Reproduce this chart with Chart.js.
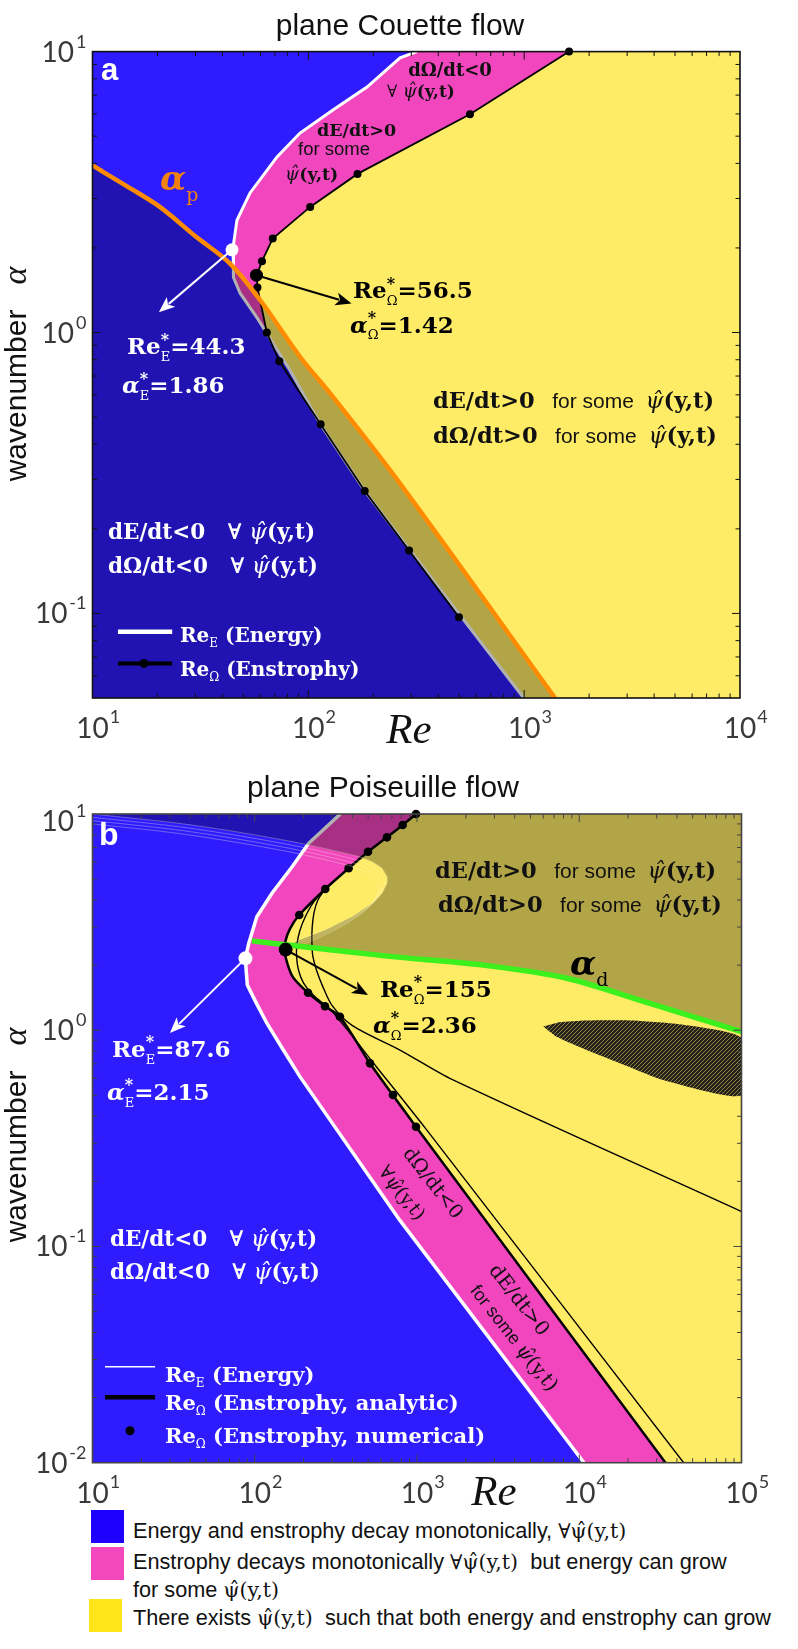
<!DOCTYPE html>
<html>
<head>
<meta charset="utf-8">
<script src="https://cdn.jsdelivr.net/npm/chart.js@4.4.1/dist/chart.umd.min.js"></script>
<style>
html, body { margin: 0; padding: 0; background: #fff; }
#page { position: relative; width: 798px; height: 1649px; overflow: hidden; }
canvas { position: absolute; left: 0; }
#cA { top: 0; }
#cB { top: 760px; }
.key { position: absolute; width: 33px; height: 33px; }
.lt { position: absolute; left: 133px; font: 21.7px "Liberation Sans", Arial, sans-serif; line-height: 24px; color: #111; white-space: nowrap; }
.m { font-family: "DejaVu Serif", serif; font-size: 20.5px; }
</style>
</head>
<body>
<div id="page">
  <canvas id="cA" width="798" height="760"></canvas>
  <canvas id="cB" width="798" height="750"></canvas>

  <div class="key" style="left:91px;top:1510px;background:#1e00ff"></div>
  <div class="key" style="left:91px;top:1547px;background:#f449be"></div>
  <div class="key" style="left:89px;top:1599px;background:#ffe41c"></div>
  <div class="lt" style="top:1519px">Energy and enstrophy decay monotonically, <span class="m">∀ψ̂(y,t)</span></div>
  <div class="lt" style="top:1550px">Enstrophy decays monotonically <span class="m">∀ψ̂(y,t)</span>&nbsp; but energy can grow</div>
  <div class="lt" style="top:1578px">for some <span class="m">ψ̂(y,t)</span></div>
  <div class="lt" style="top:1606px">There exists <span class="m">ψ̂(y,t)</span>&nbsp; such that both energy and enstrophy can grow</div>
</div>

<script>
// ---------- panel a : plane Couette flow ----------
const couetteReRange = [10, 10000];
const couetteAlphaRange = [0.05, 10];
const couetteReTicks = [10, 100, 1000, 10000];
const couetteReExp = ['1', '2', '3', '4'];
const couetteAlphaTicks = [0.1, 1, 10];
const couetteAlphaExp = ['-1', '0', '1'];

// energy stability boundary Re_E(alpha)
const couetteEnergyRe    = [319, 266, 187, 130, 91.5, 71.6, 53.7, 46.7, 44.8, 44.8, 45.2, 48.3, 57.8, 68.6, 82.2, 113, 183, 266, 995];
const couetteEnergyAlpha = [10, 9.5, 7.48, 6.2, 5.13, 4.22, 3.14, 2.51, 2.01, 1.71, 1.57, 1.38, 1.13, 0.916, 0.734, 0.475, 0.272, 0.187, 0.05];

// enstrophy stability boundary Re_Omega(alpha), numerical points
const couetteEnstRe    = [1615, 561, 169, 102, 68.4, 61.0, 57.7, 58.1, 64.2, 73.4, 114, 182.5, 293, 499];
const couetteEnstAlpha = [10, 5.98, 3.67, 2.80, 2.16, 1.795, 1.6, 1.447, 1.0, 0.79, 0.471, 0.2726, 0.1675, 0.0969];

// alpha_p curve
const couettePeakRe    = [10, 14.4, 20.5, 30, 43.4, 60, 91.5, 130, 266, 1390];
const couettePeakAlpha = [3.93, 3.32, 2.8, 2.2, 1.76, 1.3, 0.82, 0.59, 0.29, 0.05];

const couetteCritE = [44.3, 1.97];
const couetteCritOmega = [57.5, 1.6];

// ---------- panel b : plane Poiseuille flow ----------
const poisReRange = [10, 100000];
const poisAlphaRange = [0.01, 10];
const poisReTicks = [10, 100, 1000, 10000, 100000];
const poisReExp = ['1', '2', '3', '4', '5'];
const poisAlphaTicks = [0.01, 0.1, 1, 10];
const poisAlphaExp = ['-2', '-1', '0', '1'];

const poisEnergyRe    = [337, 215, 170, 128, 103, 91.8, 87.6, 88.5, 90, 101, 118.5, 150, 190, 785, 10700];
const poisEnergyAlpha = [10, 7.32, 5.7, 4.31, 3.35, 2.52, 2.15, 1.9, 1.62, 1.36, 1.08, 0.81, 0.61, 0.132, 0.01];

// Re_Omega analytic (outer curve) and two companion curves
const poisEnstRe    = [986, 816, 653, 499, 379, 272, 188, 165, 154, 153, 160, 172, 213, 271, 335, 513, 986, 34000];
const poisEnstAlpha = [10, 8.9, 7.8, 6.69, 5.61, 4.5, 3.41, 2.95, 2.55, 2.3, 2.0, 1.76, 1.49, 1.29, 1.155, 0.703, 0.358, 0.01];
const poisCurve2Re    = [272, 230, 205, 190, 182, 181, 186, 200, 230, 300, 560, 1150, 44000];
const poisCurve2Alpha = [4.5, 3.9, 3.35, 2.9, 2.5, 2.2, 1.9, 1.65, 1.45, 1.22, 0.68, 0.345, 0.01];
const poisCurve3Re    = [272, 245, 232, 226, 225, 228, 240, 262, 300, 400, 785, 1667, 100000];
const poisCurve3Alpha = [4.5, 4.0, 3.5, 3.0, 2.55, 2.2, 1.9, 1.6, 1.3, 1.05, 0.81, 0.589, 0.145];

// Re_Omega numerical points
const poisDotsRe    = [986, 816, 653, 499, 379, 272, 188, 213, 271, 335, 513, 711, 986];
const poisDotsAlpha = [10, 8.9, 7.8, 6.69, 5.61, 4.5, 3.41, 1.49, 1.29, 1.155, 0.703, 0.502, 0.358];

// alpha_d curve
const poisAlphaDRe    = [96, 160, 300, 701, 2560, 8370, 27300, 100000];
const poisAlphaDAlpha = [2.59, 2.48, 2.35, 2.19, 2.0, 1.74, 1.33, 0.984];

// contour bounding the shaded region (top strip and nose)
const poisContourRe    = [10, 41, 170, 437, 528, 608, 653, 653, 608, 528, 397, 272, 187, 160];
const poisContourAlpha = [10, 8.89, 7.45, 6.35, 6.02, 5.61, 5.13, 4.78, 4.30, 3.86, 3.35, 2.91, 2.61, 2.48];

// hatched lens
const poisLensRe    = [6000, 7260, 11100, 20000, 32800, 100000, 100000, 43800, 21500, 11100, 7500];
const poisLensAlpha = [1.04, 0.933, 0.81, 0.68, 0.589, 0.5, 0.92, 1.06, 1.11, 1.11, 1.09];

const poisCritE = [87.6, 2.15];
const poisCritOmega = [155, 2.36];

// ---------- colours ----------
const YELLOW = '#ffec66', BLUE = '#2e1cff', PINK = '#f146be', SHADE = 'rgba(0,0,0,0.3)';
const PSI = 'ψ\u0302';

// ---------- helpers ----------
const pts = (xs, ys) => xs.map((x, i) => ({x: x, y: ys[i]}));
const SB = s => 'bold ' + s + 'px "DejaVu Serif"';
const SR = s => s + 'px "DejaVu Serif"';
const SBI = s => 'bold italic ' + s + 'px "DejaVu Serif"';
const SI = s => 'italic ' + s + 'px "DejaVu Serif"';
const SS = s => s + 'px "Liberation Sans", Arial';
const SSB = s => 'bold ' + s + 'px "Liberation Sans", Arial';

function star(base, sub, size, italic) {
    return [[base, (italic ? SBI : SB)(size)],
            ['*', SB(Math.round(size * 0.7)), -size * 0.42, true],
            [sub, SR(Math.round(size * 0.55)), size * 0.3]];
}

function area(data, color, order, extra) {
    return Object.assign({data: data, fill: 'shape', backgroundColor: color, borderColor: 'rgba(0,0,0,0)',
        borderWidth: 0, pointRadius: 0, tension: 0, order: order}, extra || {});
}
function curve(data, color, width, order, extra) {
    return Object.assign({data: data, fill: false, borderColor: color, borderWidth: width,
        pointRadius: 0, tension: 0, order: order}, extra || {});
}
function marker(p, color, r, order) {
    return {data: [{x: p[0], y: p[1]}], showLine: false, pointRadius: r, pointBackgroundColor: color,
        pointBorderColor: color, pointBorderWidth: 0, order: order, clip: false};
}

// rich text: parts = [text, font, dy, stackWithNext]
function rich(ctx, x, y, parts, color, align, rot, dy0) {
    ctx.save();
    ctx.translate(x, y);
    if (rot) ctx.rotate(rot * Math.PI / 180);
    ctx.fillStyle = color;
    ctx.textAlign = 'left';
    ctx.textBaseline = 'alphabetic';
    const widths = parts.map(p => { ctx.font = p[1]; return ctx.measureText(p[0]).width; });
    let total = 0, pend = 0;
    parts.forEach((p, i) => {
        if (p[3]) pend = Math.max(pend, widths[i]);
        else { total += Math.max(pend, widths[i]); pend = 0; }
    });
    let cx = align === 'center' ? -total / 2 : (align === 'right' ? -total : 0);
    pend = 0;
    parts.forEach((p, i) => {
        ctx.font = p[1];
        ctx.fillText(p[0], cx, (p[2] || 0) + (dy0 || 0));
        if (p[3]) pend = Math.max(pend, widths[i]);
        else { cx += Math.max(pend, widths[i]); pend = 0; }
    });
    ctx.restore();
}

function arrow(ctx, p0, p1, color) {
    const ang = Math.atan2(p1[1] - p0[1], p1[0] - p0[0]);
    const L = 16, W = 6.5;
    const bx = p1[0] - L * Math.cos(ang), by = p1[1] - L * Math.sin(ang);
    ctx.save();
    ctx.strokeStyle = color; ctx.fillStyle = color; ctx.lineWidth = 2;
    ctx.beginPath(); ctx.moveTo(p0[0], p0[1]); ctx.lineTo(bx + 3 * Math.cos(ang), by + 3 * Math.sin(ang)); ctx.stroke();
    ctx.beginPath();
    ctx.moveTo(p1[0], p1[1]);
    ctx.lineTo(bx + W * Math.sin(ang), by - W * Math.cos(ang));
    ctx.lineTo(bx + 4 * Math.cos(ang), by + 4 * Math.sin(ang));
    ctx.lineTo(bx - W * Math.sin(ang), by + W * Math.cos(ang));
    ctx.closePath(); ctx.fill();
    ctx.restore();
}

function logTicks(range) {
    const out = [];
    for (let k = Math.floor(Math.log10(range[0])); k <= Math.ceil(Math.log10(range[1])); k++) {
        for (let m = 1; m <= 9; m++) {
            const v = m * Math.pow(10, k);
            if (v > range[0] * 1.0001 && v < range[1] * 0.9999) out.push({v: v, major: m === 1});
        }
    }
    return out;
}

// annotations drawn through the chart scales
function notesPlugin(spec) {
    return {
        id: 'notes',
        afterDatasetDraw(chart, args) {
            const ds = chart.data.datasets[args.index];
            if (!ds.copies) return;
            const ctx = chart.ctx, a = chart.chartArea;
            ctx.save();
            ctx.beginPath(); ctx.rect(a.left, a.top, a.right - a.left, a.bottom - a.top); ctx.clip();
            ds.copies.forEach(o => {
                ctx.save(); ctx.translate(o[0], o[1]);
                args.meta.dataset.draw(ctx, a);
                ctx.restore();
            });
            ctx.restore();
        },
        afterDatasetsDraw(chart) {
            const ctx = chart.ctx, x = chart.scales.x, y = chart.scales.y;
            const P = p => [x.getPixelForValue(p[0]), y.getPixelForValue(p[1])];
            spec.keys.forEach(k => {
                ctx.save();
                if (k.re) {
                    const a = P([k.re[0], k.al]), b = P([k.re[1], k.al]);
                    ctx.strokeStyle = k.color; ctx.lineWidth = k.width;
                    ctx.beginPath(); ctx.moveTo(a[0], a[1]); ctx.lineTo(b[0], b[1]); ctx.stroke();
                }
                if (k.dot) {
                    const d = P(k.dot);
                    ctx.fillStyle = k.color;
                    ctx.beginPath(); ctx.arc(d[0], d[1], k.r, 0, 2 * Math.PI); ctx.fill();
                }
                ctx.restore();
            });
            spec.arrows.forEach(ar => arrow(ctx, P(ar.from), P(ar.to), ar.color));
            spec.texts.forEach(t => {
                const p = P(t.at);
                rich(ctx, p[0], p[1], t.parts, t.color || '#111', t.align, t.rot, t.dy0);
            });
        }
    };
}

// frame, inward ticks, tick labels and titles
function framePlugin(cfg) {
    return {
        id: 'frame',
        afterDraw(chart) {
            const ctx = chart.ctx, a = chart.chartArea, x = chart.scales.x, y = chart.scales.y;
            ctx.save();
            ctx.strokeStyle = cfg.color;
            ctx.lineWidth = 1;
            ctx.beginPath();
            logTicks(cfg.xRange).forEach(t => {
                const px = x.getPixelForValue(t.v), L = t.major ? 8 : 4.5;
                ctx.moveTo(px, a.bottom); ctx.lineTo(px, a.bottom - L);
                ctx.moveTo(px, a.top); ctx.lineTo(px, a.top + L);
            });
            logTicks(cfg.yRange).forEach(t => {
                const py = y.getPixelForValue(t.v), L = t.major ? 8 : 4.5;
                ctx.moveTo(a.left, py); ctx.lineTo(a.left + L, py);
                ctx.moveTo(a.right, py); ctx.lineTo(a.right - L, py);
            });
            ctx.stroke();
            ctx.lineWidth = 1.6;
            ctx.strokeRect(a.left, a.top, a.right - a.left, a.bottom - a.top);

            const LBL = '28px Lato, "Liberation Sans"', SUP = '18px Lato, "Liberation Sans"';
            ctx.fillStyle = '#3a3a3a';
            ctx.textBaseline = 'alphabetic';
            cfg.xTicks.forEach((v, i) => {
                const px = x.getPixelForValue(v);
                ctx.font = LBL;
                const w = ctx.measureText('10').width;
                ctx.textAlign = 'center'; ctx.fillText('10', px, a.bottom + 40);
                ctx.font = SUP; ctx.textAlign = 'left';
                ctx.fillText(cfg.xExp[i], px + w / 2 + 1, a.bottom + 25);
            });
            cfg.yTicks.forEach((v, i) => {
                const py = y.getPixelForValue(v) + (cfg.yShift[i] || 0);
                ctx.font = SUP;
                const we = ctx.measureText(cfg.yExp[i]).width;
                const right = a.left - 6;
                ctx.textAlign = 'right';
                ctx.fillText(cfg.yExp[i], right, py - 4);
                ctx.font = LBL;
                ctx.fillText('10', right - we - 2, py + 10);
            });

            ctx.fillStyle = '#111';
            ctx.textAlign = 'center';
            ctx.font = '30px "Liberation Sans", Arial';
            ctx.fillText(cfg.title, cfg.titleX, cfg.titleY);
            ctx.font = 'italic 43px "Liberation Serif"';
            ctx.fillText('Re', cfg.reX, cfg.reY);
            ctx.restore();
            rich(ctx, 26, cfg.waveY, [['wavenumber', SS(30)], ['   ', SS(30)], ['α', 'italic 34px "Liberation Serif"']],
                 '#111', 'center', -90);
        }
    };
}

function baseOptions(xr, yr, pad) {
    return {
        responsive: false, animation: false, events: [],
        layout: {padding: pad},
        plugins: {legend: {display: false}, tooltip: {enabled: false}, colors: {enabled: false}},
        scales: {
            x: {type: 'logarithmic', min: xr[0], max: xr[1], display: false},
            y: {type: 'logarithmic', min: yr[0], max: yr[1], display: false}
        }
    };
}

// ---------- panel a chart ----------
const cReA = couetteReRange, cAlA = couetteAlphaRange;
const bgA = pts([cReA[0], cReA[1], cReA[1], cReA[0]], [cAlA[0], cAlA[0], cAlA[1], cAlA[1]]);
const pinkA = [{x: cReA[0], y: cAlA[1]}, ...pts(couetteEnstRe, couetteEnstAlpha), {x: 1000, y: cAlA[0]}, {x: cReA[0], y: cAlA[0]}];
const blueA = [{x: cReA[0], y: cAlA[1]}, ...pts(couetteEnergyRe, couetteEnergyAlpha), {x: cReA[0], y: cAlA[0]}];
const shadeA = [{x: cReA[0], y: cAlA[0]}, ...pts(couettePeakRe, couettePeakAlpha)];

const notesA = {
    keys: [
        {re: [13.12, 23.4], al: 0.0861, color: '#fff', width: 4.5},
        {re: [13.12, 23.4], al: 0.0664, color: '#000', width: 4, dot: [17.3, 0.0664], r: 4.5}
    ],
    arrows: [
        {from: couetteCritE, to: [20.3, 1.18], color: '#fff'},
        {from: couetteCritOmega, to: [158.6, 1.268], color: '#000'}
    ],
    texts: [
        {at: [10.95, 7.92], color: '#fff', parts: [['a', SSB(31)]]},
        {at: [20.55, 3.21], color: '#f0820f', parts: [['α', SBI(34)], ['p', SR(19), 11]]},
        {at: [14.45, 0.836], color: '#fff', parts: [...star('Re', 'E', 23), ['=44.3', SB(23)]]},
        {at: [13.7, 0.607], color: '#fff', parts: [...star('α', 'E', 23, true), ['=1.86', SB(23)]]},
        {at: [161, 1.324], color: '#000', parts: [...star('Re', 'Ω', 23), ['=56.5', SB(23)]]},
        {at: [156, 1.0], color: '#000', parts: [...star('α', 'Ω', 23, true), ['=1.42', SB(23)]]},
        {at: [290, 8.19], parts: [['dΩ/dt<0', SB(18)]]},
        {at: [231.5, 6.89], parts: [['∀ ', SR(17)], [PSI, SI(18)], ['(y,t)', SB(17)]]},
        {at: [109.6, 5.0], parts: [['dE/dt>0', SB(17.5)]]},
        {at: [89.6, 4.29], parts: [['for some', SS(18.5)]]},
        {at: [78, 3.48], parts: [[PSI, SI(18)], ['(y,t)', SB(17.5)]]},
        {at: [378, 0.537], parts: [['dE/dt>0', SB(22.5)], ['   for some  ', SS(21)], [PSI, SI(23)], ['(y,t)', SB(22.5)]]},
        {at: [378, 0.403], parts: [['dΩ/dt>0', SB(22.5)], ['   for some  ', SS(21)], [PSI, SI(23)], ['(y,t)', SB(22.5)]]},
        {at: [11.8, 0.1848], color: '#fff', parts: [['dE/dt<0   ∀ ', SB(21.5)], [PSI, SI(23)], ['(y,t)', SB(21.5)]]},
        {at: [11.8, 0.1397], color: '#fff', parts: [['dΩ/dt<0   ∀ ', SB(21.5)], [PSI, SI(23)], ['(y,t)', SB(21.5)]]},
        {at: [25.4, 0.0794], color: '#fff', parts: [['Re', SB(20)], ['E', SR(12), 5], [' (Energy)', SB(20)]]},
        {at: [25.4, 0.06], color: '#fff', parts: [['Re', SB(20)], ['Ω', SR(12), 5], [' (Enstrophy)', SB(20)]]}
    ]
};

new Chart(document.getElementById('cA'), {
    type: 'line',
    data: {
        datasets: [
            area(bgA, YELLOW, 20),
            area(pinkA, PINK, 19),
            area(blueA, BLUE, 18),
            curve(pts(couetteEnergyRe, couetteEnergyAlpha), '#fff', 3, 17),
            curve(pts(couetteEnstRe, couetteEnstAlpha), '#000', 1.8, 16,
                  {pointRadius: 4, pointBackgroundColor: '#000', pointBorderColor: '#000', pointBorderWidth: 0, clip: 8}),
            area(shadeA, SHADE, 15),
            curve(pts(couettePeakRe, couettePeakAlpha), '#ff8c00', 4.5, 14, {tension: 0.35}),
            marker(couetteCritE, '#fff', 6.5, 13),
            marker(couetteCritOmega, '#000', 6.5, 12)
        ]
    },
    options: baseOptions(couetteReRange, couetteAlphaRange, {left: 92.5, right: 58, top: 51.6, bottom: 62}),
    plugins: [notesPlugin(notesA), framePlugin({
        color: '#111', xRange: couetteReRange, yRange: couetteAlphaRange,
        xTicks: couetteReTicks, xExp: couetteReExp, yTicks: couetteAlphaTicks, yExp: couetteAlphaExp, yShift: [0, 0, 0],
        title: 'plane Couette flow', titleX: 400, titleY: 35, reX: 409, reY: 743, waveY: 374
    })]
});

// ---------- panel b chart ----------
const cReB = poisReRange, cAlB = poisAlphaRange;
const bgB = pts([cReB[0], cReB[1], cReB[1], cReB[0]], [cAlB[0], cAlB[0], cAlB[1], cAlB[1]]);
const pinkB = [{x: cReB[0], y: cAlB[1]}, ...pts(poisEnstRe, poisEnstAlpha), {x: cReB[0], y: cAlB[0]}];
const blueB = [{x: cReB[0], y: cAlB[1]}, ...pts(poisEnergyRe, poisEnergyAlpha), {x: cReB[0], y: cAlB[0]}];
const shadeB = [...pts(poisContourRe, poisContourAlpha), ...pts(poisAlphaDRe.slice(1), poisAlphaDAlpha.slice(1)), {x: cReB[1], y: cAlB[1]}];

function hatchPattern(ctx) {
    const c = document.createElement('canvas');
    c.width = 4; c.height = 4;
    const g = c.getContext('2d');
    g.fillStyle = '#24221a'; g.fillRect(0, 0, 4, 4);
    g.strokeStyle = '#aa9d4a'; g.lineWidth = 0.8;
    g.beginPath();
    g.moveTo(0, 4); g.lineTo(4, 0);
    g.moveTo(-1, 1); g.lineTo(1, -1);
    g.moveTo(3, 5); g.lineTo(5, 3);
    g.stroke();
    return ctx.createPattern(c, 'repeat');
}
const canvasB = document.getElementById('cB');

const notesB = {
    keys: [
        {re: [11.94, 24.3], al: 0.0278, color: '#fff', width: 1.5},
        {re: [11.94, 24.3], al: 0.02005, color: '#000', width: 4.5},
        {dot: [17.02, 0.01405], color: '#000', r: 4.5}
    ],
    arrows: [
        {from: poisCritE, to: [30.0, 0.971], color: '#fff'},
        {from: poisCritOmega, to: [499, 1.455], color: '#000'}
    ],
    texts: [
        {at: [10.97, 7.19], color: '#fff', parts: [['b', SSB(32)]]},
        {at: [13.19, 0.752], color: '#fff', parts: [...star('Re', 'E', 23), ['=87.6', SB(23)]]},
        {at: [12.28, 0.4757], color: '#fff', parts: [...star('α', 'E', 23, true), ['=2.15', SB(23)]]},
        {at: [591, 1.424], color: '#000', parts: [...star('Re', 'Ω', 23), ['=155', SB(23)]]},
        {at: [535.6, 0.971], color: '#000', parts: [...star('α', 'Ω', 23, true), ['=2.36', SB(23)]]},
        {at: [1291, 5.06], parts: [['dE/dt>0', SB(22.5)], ['   for some  ', SS(21)], [PSI, SI(23)], ['(y,t)', SB(22.5)]]},
        {at: [1347, 3.52], parts: [['dΩ/dt>0', SB(22.5)], ['   for some  ', SS(21)], [PSI, SI(23)], ['(y,t)', SB(22.5)]]},
        {at: [8770, 1.80], color: '#000', parts: [['α', SBI(34)], ['d', SR(19), 11]]},
        {at: [12.8, 0.1004], color: '#fff', parts: [['dE/dt<0   ∀ ', SB(21.5)], [PSI, SI(23)], ['(y,t)', SB(21.5)]]},
        {at: [12.8, 0.0707], color: '#fff', parts: [['dΩ/dt<0   ∀ ', SB(21.5)], [PSI, SI(23)], ['(y,t)', SB(21.5)]]},
        {at: [27.98, 0.02366], color: '#fff', parts: [['Re', SB(21)], ['E', SR(12), 5], [' (Energy)', SB(21)]]},
        {at: [27.98, 0.0175], color: '#fff', parts: [['Re', SB(21)], ['Ω', SR(12), 5], [' (Enstrophy, analytic)', SB(21)]]},
        {at: [27.98, 0.01228], color: '#fff', parts: [['Re', SB(21)], ['Ω', SR(12), 5], [' (Enstrophy, numerical)', SB(21)]]},
        {at: [1255, 0.1964], rot: 52, align: 'center', dy0: 6, parts: [['dΩ/dt<0', SR(19.5)]]},
        {at: [808, 0.1765], rot: 52, align: 'center', dy0: 6, parts: [['∀', SR(19)], [PSI, SI(19)], ['(y,t)', SR(19)]]},
        {at: [4253, 0.0565], rot: 52, align: 'center', dy0: 6, parts: [['dE/dt>0', SR(20)]]},
        {at: [3960, 0.0377], rot: 52, align: 'center', dy0: 6, parts: [['for some ', SS(18)], [PSI, SI(20)], ['(y,t)', SR(20)]]}
    ]
};

new Chart(canvasB, {
    type: 'line',
    data: {
        datasets: [
            area(bgB, YELLOW, 30),
            area(pinkB, PINK, 29),
            area(blueB, BLUE, 28),
            area(pts(poisLensRe, poisLensAlpha), hatchPattern(canvasB.getContext('2d')), 27, {tension: 0.2}),
            curve(pts(poisEnergyRe, poisEnergyAlpha), '#fff', 3.5, 26),
            curve(pts(poisCurve3Re, poisCurve3Alpha), '#000', 1.4, 25, {tension: 0.3}),
            curve(pts(poisCurve2Re, poisCurve2Alpha), '#000', 1.4, 24, {tension: 0.3}),
            curve(pts(poisEnstRe, poisEnstAlpha), '#000', 2.5, 23, {tension: 0.3}),
            {data: pts(poisDotsRe, poisDotsAlpha), showLine: false, pointRadius: 4.3, pointBackgroundColor: '#000',
             pointBorderColor: '#000', pointBorderWidth: 0, order: 22, clip: false},
            area(shadeB, SHADE, 21),
            curve(pts(poisContourRe, poisContourAlpha), 'rgba(255,250,215,0.32)', 1, 20,
                  {tension: 0.3, copies: [[-3, 3], [-6, 6], [-9, 9]]}),
            curve(pts(poisAlphaDRe, poisAlphaDAlpha), '#3cf01e', 5.5, 19, {tension: 0.3}),
            marker(poisCritE, '#fff', 7, 18),
            marker(poisCritOmega, '#000', 7, 17)
        ]
    },
    options: baseOptions(poisReRange, poisAlphaRange, {left: 92.5, right: 56.5, top: 54, bottom: 47.3}),
    plugins: [notesPlugin(notesB), framePlugin({
        color: '#444', xRange: poisReRange, yRange: poisAlphaRange,
        xTicks: poisReTicks, xExp: poisReExp, yTicks: poisAlphaTicks, yExp: poisAlphaExp, yShift: [0, 0, 0, 7],
        title: 'plane Poiseuille flow', titleX: 383, titleY: 37, reX: 494, reY: 745, waveY: 375
    })]
});
</script>
</body>
</html>
